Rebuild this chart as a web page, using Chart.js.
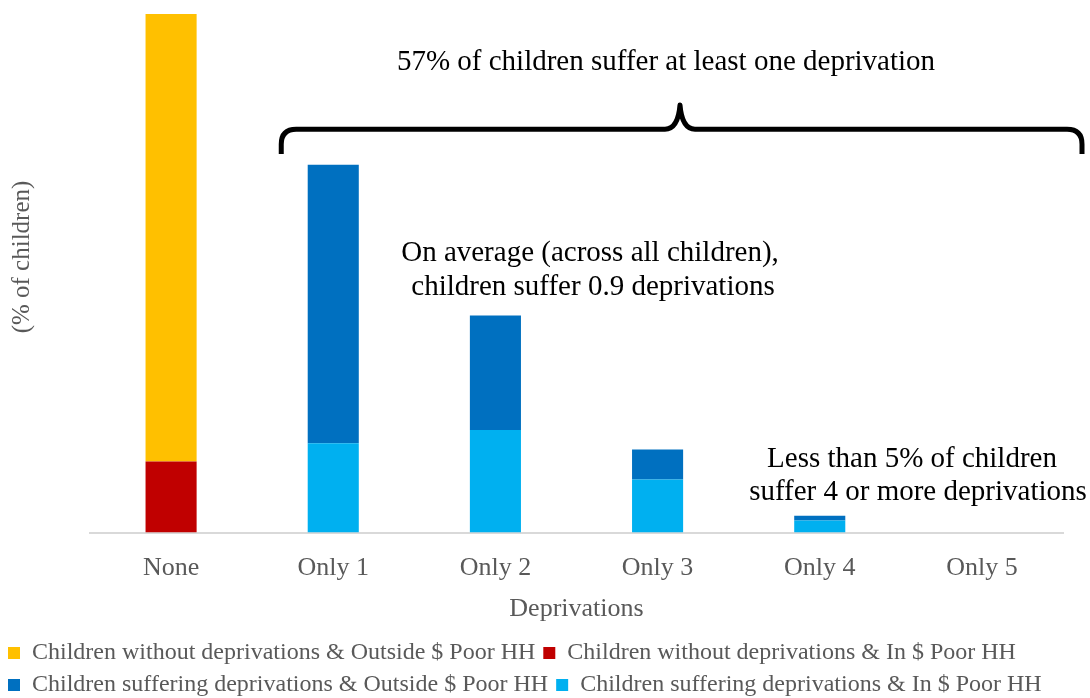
<!DOCTYPE html>
<html>
<head>
<meta charset="utf-8">
<script src="https://cdn.jsdelivr.net/npm/chart.js@4.4.1/dist/chart.umd.min.js"></script>
<style>
  html, body { margin: 0; padding: 0; background: #fff; }
  #wrap { width: 1090px; height: 698px; position: relative; }
</style>
</head>
<body>
<div id="wrap"><canvas id="chart"></canvas></div>
<script>
const categories = ['None', 'Only 1', 'Only 2', 'Only 3', 'Only 4', 'Only 5'];
// % of children, stacked bottom -> top
const withoutInPoor = [5.9, 0, 0, 0, 0, 0];
const withoutOutsidePoor = [37.1, 0, 0, 0, 0, 0];
const sufferingInPoor = [0, 7.4, 8.5, 4.4, 1.0, 0];
const sufferingOutsidePoor = [0, 23.1, 9.5, 2.5, 0.4, 0];
const legendOrder = [1, 0, 3, 2]; // dataset index shown first..last

const SERIF = '"Liberation Serif", "Times New Roman", serif';
const GREY = '#595959';

const notes = {
  id: 'notes',
  afterDraw(chart) {
    const { ctx, scales: { x, y } } = chart;
    ctx.save();
    // y title
    ctx.fillStyle = GREY;
    ctx.font = '25px ' + SERIF;
    ctx.textAlign = 'center';
    ctx.textBaseline = 'middle';
    ctx.translate(22, 257);
    ctx.rotate(-Math.PI / 2);
    ctx.fillText('(% of children)', 0, 0);
    ctx.restore();

    ctx.save();
    ctx.fillStyle = '#000';
    ctx.font = '29px ' + SERIF;
    ctx.textAlign = 'center';
    ctx.textBaseline = 'middle';
    ctx.fillText('57% of children suffer at least one deprivation', 666, y.getPixelForValue(39));
    ctx.fillText('On average (across all children),', 590, y.getPixelForValue(23.15));
    ctx.fillText('children suffer 0.9 deprivations', 593, y.getPixelForValue(20.35));
    ctx.fillText('Less than 5% of children', 912, y.getPixelForValue(6.05));
    ctx.fillText('suffer 4 or more deprivations', 918, y.getPixelForValue(3.3));

    // brace
    const l = x.getPixelForValue(1) - 52, r = 1082, m = 680;
    const yb = y.getPixelForValue(31.4), yh = y.getPixelForValue(33.45), yt = y.getPixelForValue(35.45);
    ctx.strokeStyle = '#000';
    ctx.lineWidth = 5;
    ctx.lineJoin = 'round';
    ctx.beginPath();
    ctx.moveTo(l, yb);
    ctx.lineTo(l, yh + 15);
    ctx.quadraticCurveTo(l, yh, l + 15, yh);
    ctx.lineTo(m - 15, yh);
    ctx.quadraticCurveTo(m - 2, yh, m, yt);
    ctx.quadraticCurveTo(m + 2, yh, m + 15, yh);
    ctx.lineTo(r - 15, yh);
    ctx.quadraticCurveTo(r, yh, r, yh + 15);
    ctx.lineTo(r, yb);
    ctx.stroke();
    ctx.restore();
  }
};

function ds(label, data, color) {
  return { label, data, backgroundColor: color, borderWidth: 0, categoryPercentage: 1, barPercentage: 0.315 };
}

new Chart(document.getElementById('chart'), {
  type: 'bar',
  data: {
    labels: categories,
    datasets: [
      ds('Children without deprivations & In $ Poor HH', withoutInPoor, '#C00000'),
      ds('Children without deprivations & Outside $ Poor HH', withoutOutsidePoor, '#FFC000'),
      ds('Children suffering deprivations & In $ Poor HH', sufferingInPoor, '#00B0F0'),
      ds('Children suffering deprivations & Outside $ Poor HH', sufferingOutsidePoor, '#0070C0'),
    ],
  },
  options: {
    responsive: true, maintainAspectRatio: false, animation: false,
    layout: { padding: { left: 0, right: 27, top: 14, bottom: -9 } },
    scales: {
      x: {
        stacked: true,
        grid: { display: false },
        border: { color: '#d9d9d9', width: 2 },
        ticks: { color: GREY, font: { family: SERIF, size: 26 }, padding: 12 },
        title: { display: true, text: 'Deprivations', color: GREY, font: { family: SERIF, size: 26 }, padding: { top: -2, bottom: 8 } },
      },
      y: {
        stacked: true, min: 0, max: 43,
        grid: { display: false }, border: { display: false }, ticks: { display: false },
        afterFit(scale) { scale.width = 90; },
      },
    },
    plugins: {
      legend: {
        position: 'bottom',
        align: 'start',
        labels: {
          color: GREY, font: { family: SERIF, size: 24 }, boxWidth: 12, boxHeight: 12, padding: 8,
          sort: (a, b) => legendOrder.indexOf(a.datasetIndex) - legendOrder.indexOf(b.datasetIndex),
        },
      },
      tooltip: { enabled: false },
    },
  },
  plugins: [notes],
});
</script>
</body>
</html>
